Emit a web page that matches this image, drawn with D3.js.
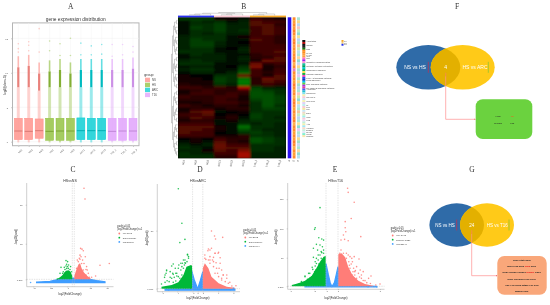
<!DOCTYPE html>
<html><head><meta charset="utf-8">
<script src="https://cdn.jsdelivr.net/npm/d3@7/dist/d3.min.js"></script>
<style>
html,body{margin:0;padding:0;background:#fff}
svg{display:block;filter:blur(0.3px)}
text{font-family:"Liberation Sans",Arial,sans-serif}
.axis path,.axis line{stroke:#888;stroke-width:.4}
.axis text{fill:#555;font-size:2.4px}
</style></head><body>
<script>
// ---------- Panel letters
const panelLetters = ["A","B","C","D","E","F","G"];
// ---------- Panel A: expression box plots
const samples = ["NS1","NS2","NS3","HS1","HS2","HS3","ARC1","ARC2","ARC3","T16_1","T16_2","T16_3"];
const sampleGroup = ["NS","NS","NS","HS","HS","HS","ARC","ARC","ARC","T16","T16","T16"];
const groups = ["NS","HS","ARC","T16"];
const groupFill = ["#ff8d86","#8fbf3a","#00ccd2","#df9dfb"];
const boxQ1 = [0.3,0.3,0.5,0.2,0.2,0.2,0.3,0.3,0.3,0.2,0.2,0.2];
const boxMed = [1.55,1.5,1.6,1.5,1.55,1.55,1.6,1.6,1.6,1.5,1.55,1.55];
const boxQ3 = [3.4,3.4,3.3,3.4,3.4,3.4,3.45,3.4,3.4,3.4,3.4,3.4];
const denseLow = [7.9,7.9,7.4,7.9,7.9,7.9,7.9,7.9,7.9,7.9,7.9,7.9];
const denseHigh = [12.4,12.6,11.5,11.8,12,11.5,12,12,12,12,12,12.2];
const sparseOut = [[13,13.5,14.2],[13.2,14,14.5],[13,16.4],[13.2,14.6],[12.5,14.2],[12.5,15],[12.6,14.3],[12.6,13.9],[12.7,14.1],[12.4,14.1],[12.6,14.1],[13,13.8]];
const exprTicks = [0,5,10,15];
// ---------- Panel B: heat map (columns by rows, -10 green .. 10 red)
const heatCols = ["HS1","HS2","HS3","ARC1","ARC2","ARC3","T16_1","T16_2","T16_3"];
const heatValues = [
[-4,-4,-4,1,1,-1,3,2,1],[-1,-3,-2,-3,-1,-2,4,3,3],[-1,-3,-3,-4,-2,-2,4,4,2],[-1,-4,-3,-4,-2,-2,3,4,3],
[-1,-3,-3,-4,-2,-3,3,4,3],[-1,-3,-2,-3,-2,-2,3,4,3],[-2,-3,-3,-3,-1,1,3,3,2],[-2,-4,-3,-3,-1,-1,4,3,2],
[-2,-4,-4,-2,-1,0,3,3,2],[-2,-4,-4,-2,-1,-1,3,3,3],[-2,-3,-3,-1,0,-2,3,3,3],[-3,-3,-3,-1,-1,-2,3,3,4],
[-1,-3,-2,-2,-1,-1,2,3,3],[-1,-2,-2,-2,-1,-2,2,2,4],[-2,-3,-2,-2,-1,-2,1,5,4],[-3,-3,-3,-1,-1,-1,5,2,3],
[-1,-2,-2,-1,0,-3,6,1,2],[-2,-3,-3,-1,-1,-4,3,1,3],[-1,-2,-2,-1,-2,-6,3,2,3],[1,0,0,-3,-3,5,3,1,4],
[1,1,0,-4,-3,-7,2,5,4],[1,1,1,-4,-3,-8,2,4,3],[2,1,1,-3,-2,-7,2,3,2],[3,3,2,3,2,8,-4,-2,-2],
[1,2,3,2,2,3,-5,-4,-3],[1,3,3,2,3,2,-5,-5,-3],[3,2,2,3,3,1,-5,-5,-4],[2,2,2,3,2,1,-4,-5,-4],
[1,1,2,3,3,2,-3,-5,-4],[3,2,1,2,2,1,-3,-5,-3],[1,2,2,1,2,2,-3,-4,-4],[1,4,5,-1,0,1,-3,-3,-3],
[3,3,4,0,1,0,-4,-3,-3],[2,4,3,1,2,-1,-4,-3,-2],[1,2,2,-1,1,-2,-3,-3,-3],[3,3,3,-1,-1,-3,-2,-3,-2],
[4,4,4,1,-1,-7,-3,-3,-2],[4,4,3,1,-1,-5,-3,-2,-2],[4,3,3,0,-1,-3,-4,-3,-2],[3,3,3,1,1,2,-3,-3,-2],
[0,1,0,3,2,2,-5,-4,-3],[-1,1,-1,4,2,1,-5,-4,-3],[-2,-1,-2,5,3,3,-3,-3,-3],[-3,-2,-1,5,4,4,-3,-3,-2],
[-2,-2,1,4,3,6,-3,-3,-2],[-3,-2,-2,3,3,8,-2,-2,-2],[-3,-3,-3,2,2,8,-2,-2,-2]];
const colTree = [[[[1,1],1],[[1,1],1]],[[1,1],1]];
const rowTree = [[[[[1,1],[1,[1,1]]],[[1,[1,1]],[[1,1],1]]],[[[1,1],[[1,1],1]],[[1,[1,1]],[1,1]]]],[[[[1,1],[1,[1,1]]],[[[1,1],1],[1,1]]],[[[1,[1,1]],[1,1]],[[1,1],[1,[1,1]]]]]];
const colGroupColor = ["#2a30f0","#f9c3d0","#f5a623"];
const trackOrange = ["#ff8c2e","#ffa033","#ff8c2e","#ff9a3a","#ff7d2a","#ff8c2e","#ffb04a","#ff8c2e","#ff7d2a","#ff9a3a","#ff8c2e","#ffa033","#ff8c2e","#ff8c2e","#ff7d2a","#ffb04a","#ff8c2e","#e87fb0","#ff8c2e","#ff9a3a","#ff8c2e","#ffa033","#ff7d2a","#ff8c2e","#ff9a3a","#ff8c2e","#ffb04a","#ff8c2e","#ff7d2a","#ff8c2e","#ffa033","#ff8c2e","#ff9a3a","#ff8c2e","#ff7d2a","#ffb04a","#ff8c2e","#ff8c2e","#ffa033","#ff8c2e","#ff9a3a","#ff7d2a","#ff8c2e","#ffb04a","#ff8c2e","#ffa033","#ff8c2e"];
const trackPastel = ["#a9e6d2","#f5d98b","#b8d8f0","#f7c6c0","#c0ecc0","#8fdcd0","#f2e39a","#bcd4f5","#a9e6d2","#f5c39a","#d0e8a8","#b8e0f0","#a9e6d2","#f7d6a0","#8fdcd0","#c8d8f5","#f5d98b","#a9e6d2","#b8d8f0","#e8c8f0","#a9e6d2","#f5d98b","#9fe0c8","#bcd4f5","#a9e6d2","#f7c6c0","#d0e8a8","#8fdcd0","#f5d98b","#b8e0f0","#a9e6d2","#f5c39a","#c0ecc0","#bcd4f5","#a9e6d2","#f2e39a","#8fdcd0","#e8c8f0","#a9e6d2","#b8d8f0","#f5d98b","#9fe0c8","#c8d8f5","#a9e6d2","#f7d6a0","#8fdcd0","#b8e0f0"];
const annotLabels = ["Annotation","","mTOR","","Ras","","MAPK","cAMP","Wnt","p53","","Oxidative phosphorylation","","Cytokine-cytokine interaction","","Chemokine signaling","","Calcium signaling","","PI3K-Akt signaling pathway","Focal adhesion","","TNF signaling pathway","","NF-kappa B signaling pathway","Apoptosis","","Ribosome","","Jak-STAT","","Cell cycle","","Il1","Fos","Jun","","Egr1","","Ccl2","","Klf2","","Atf3","","Hspa1a","Dnajb1","Nr4a1","Cxcl2","Sparcl1"];
const annotColors = ["#111","#c01010","#111","#222","#117711","#ff8c1a","#ff8c1a","#ffa040","#ffa040","#ff70c0","#a020f0","#ff90d0","#19c0a0","#00a060","#00c8c8","#00b060","#f7e050","#18b040","#ff40c0","#2050e0","#1030c0","#00c0f0","#60d040","#b030e0","#e040a0","#4060f0","#20c0d0","#80e0f0","#f5f0b0","#f9c8d8","#c8e8f8","#f5f0b0","#e0d0f8","#c0f0f0","#f9c8d8","#f5e8a0","#c8e8f8","#f0d8c8","#d8f0c0","#a0f0f0","#f9c8d8","#e8d8f8","#c0f0d8","#f5f0b0","#a0e8f8","#f9d8c8","#c8f0e0","#e0e8f8","#80f0d0","#f8e8b0"];
const miniLegend = ["G1","G2","G3"];
const miniLegendColor = ["#f5a623","#f0d080","#2030f0"];
// ---------- Panels C, D, E: volcano silhouettes [log2FC, -log10 padj] and scattered points
const cGreenEdge = [[-16.7,1.3],[-13.3,2.1],[-10.7,3],[-9,3.9],[-7.3,4.6],[-4.7,4.8],[-2.7,4.2],[-1,2.6]];
const cRedEdge = [[1,2.6],[2.7,4.6],[4.7,6.6],[6.7,7.6],[8.3,5.6],[10.7,3.9],[14,2.6],[17.3,1.6]];
const cBlueEdge = [[-36.7,.2],[-23.3,.5],[-15,1.3],[-6.7,1.5],[0,1.8],[8.3,1.5],[16.7,1.3],[23.3,.8],[31.7,.4]];
const cGreenPts = [[-7.3,8.5],[-5.7,8.1],[-6.7,7.1],[-4.7,6.8],[-9,5.9],[-12.3,5.9],[-8.3,5.1],[-5,5.5],[-2.7,6.2],[-10,4.2],[-16,1.4],[-13.3,3.6],[-4,3.6],[-8.3,3.6],[-6.7,5.5],[-3.3,5.1],[-10.7,3.6],[-1.7,4.2],[-5.7,6.2],[-7.3,6.4]];
const cRedPts = [[10.7,36.3],[11.7,32.2],[7.3,13.2],[8.7,12.9],[6.7,10.6],[10,12.3],[12,10],[6,9.4],[7.7,10],[13.3,6.2],[12.7,5.1],[26.7,6.7],[36,7.4],[22.3,2.6],[14,4.9],[9.3,8.7],[5,8.1],[10.7,7.4],[16,2.1],[18.3,2.1],[3.3,5.5],[5.7,6.8],[8.3,7.4],[6.7,9],[4,8.7],[10,4.9],[12.7,2.9],[15,3.6]];
const cBluePts = [[-42.7,.1]];
const dGreenEdge = [[-7.1,2.9],[-5.1,4.4],[-3.8,6.6],[-2.8,12.8],[-2.2,19.7],[-1.3,21.2],[-1.1,20.3]];
const dRedEdge = [[1,18.4],[1.4,22.6],[2.1,18.4],[2.7,11.4],[4.1,5.8],[5.7,3],[7.3,2.1]];
const dBlueEdge = [[-6.4,1],[-1.5,1.3],[-1.3,18.4],[-.7,9],[0,1],[.5,8],[1,15.6],[1.2,1.3],[7.3,1]];
const dGreenPts = [[-3.8,85.3],[-3.1,56.2],[-3.5,40],[-2.5,42.7],[-4.8,22],[-5.1,20.3],[-6.1,16.4],[-6.2,14.2],[-4.9,14.2],[-4.3,14.2],[-3.8,18.4],[-3.3,22.6],[-2.8,25.4],[-2,29.6],[-1.8,26.8],[-2.5,23.1],[-4.6,10.8],[-5.4,10.8],[-6.5,10.8],[-7.1,5.2],[-4.1,11.9],[-3.1,19.8],[-6,8],
[-6.4,12.8],[-6.1,17],[-5.4,15.6],[-5.1,10],[-4.8,13.3],[-4.4,18.4],[-4.1,14.2],[-3.8,11.4],[-3.7,21.2],[-3.3,17],[-3,22.6],[-2.6,21.2],[-2.5,25.4],[-2.1,24],[-1.8,28.2],[-2,30.1],[-4.3,7.7],[-5.6,7.2],[-6.4,6.6],[-3.5,10],[-3.1,12.8],[-2.8,18.4],[-2.4,22.6],[-4.8,6.6]];
const dRedPts = [[2.7,49.7],[3.3,45.5],[3.5,43],[4.9,44.4],[2.4,33.8],[2,33.2],[3.4,31],[4,31],[3.1,27.6],[4.4,27.3],[2.4,25.4],[3.6,23.1],[4.2,18.4],[5,12.8],[3.9,14.2],[4.7,10],[6,5.8],[7.5,3.8],[6.7,3.5],[5.7,12.8],[2.9,25.4],[1.6,25.9],
[1.4,26.8],[2.1,34.6],[2.7,35.2],[3.4,31],[4.1,31.8],[2.4,28.2],[3.1,24],[4.4,22.6],[3.7,18.4],[4.7,17],[3.4,14.2],[4.1,11.4],[5,12.8],[5.7,10],[3.1,19.8],[2.1,25.4],[1.4,29.6],[6.3,6.6],[4.7,8.6],[2.4,22.6],[5.4,7.2]];
const dBluePts = [[7,1.6],[-5.7,.2],[6.4,.4]];
const eGreenEdge = [[-6.7,3.4],[-5.6,6.3],[-4.5,10.8],[-3.4,18.8],[-2.6,31.9],[-2,43.2],[-1.4,51.8],[-1.05,52.9]];
const eRedEdge = [[1.05,55.7],[1.6,57.5],[2.2,50.6],[2.7,34.7],[3.4,20.5],[4.4,10.8],[5.5,5.1],[6.9,2.3]];
const eBlueEdge = [[-4.5,1],[-1.5,1.3],[-1,40],[-.6,20.5],[-.3,7.4],[0,.6],[.4,7.4],[.7,20.5],[1,34.7],[1.5,1.3],[7.4,1]];
const eGreenPts = [[-2,135.4],[-2.8,101],[-2.9,98.4],[-2.2,84],[-1.7,82],[-1.4,80],[-2.6,72.8],[-2,71.7],[-1.6,68.8],[-3.1,66],[-2.4,63],[-1.8,60.3],[-1.4,63],[-3.1,50.6],[-2.3,54.6],[-2.8,35.8],[-3.2,30],[-3.7,23.3],[-4.5,18.8],[-2.6,40],
[-5.1,9.1],[-4.5,17.6],[-3.9,23.3],[-3.7,14.8],[-3.3,33.6],[-2.9,26.2],[-2.8,43.2],[-2.6,48.9],[-2.4,31.9],[-2.3,46.1],[-2,54.6],[-1.7,58.6],[-1.4,57.5],[-3.4,17.6],[-4.1,13.1],[-2.7,29],[-2.2,39.2],[-5.6,5.1],[-1.8,48.9]];
const eRedPts = [[2.6,168.4],[2.7,161.5],[3.7,144.5],[3.2,117],[2.2,111.5],[2.2,101],[2.3,94.4],[1.9,88.7],[1.5,80.2],[2.1,81.3],[2.7,79],[4.8,85.9],[3.7,51.8],[4.5,47.8],[2.4,57.5],[3,51.8],[3.4,43.2],[4.1,34.7],[4.9,20.5],[6.5,18.8],[5.5,10.8],[8,5.1],[7.3,3.4],[4.7,29],[3.8,26.2],
[1.5,63.1],[1.9,57.5],[2.4,48.9],[2.8,43.2],[3.2,39.2],[3.6,31.9],[3,31.9],[3.8,20.5],[4.4,23.3],[4.9,14.8],[5.8,7.4],[3.4,20.5],[4.1,14.8],[2.2,46.1],[2.7,54.6],[1.3,57.5],[5.2,26.2],[6.1,14.8],[3.3,48.9],[3.5,26],[4.6,17],[5.2,11],[2.9,37],[3.9,28],[6.4,6]];
const eBluePts = [[6,.6],[7.5,.2],[7,.8]];
const volcanoTitles = ["HSvsNS","HSvsARC","HSvsT16"];
const cLegendCounts = ["UP:1095","DOWN:1354","NO:25642"];
const dLegendCounts = ["UP:2782","DOWN:3899","NO:26494"];
const eLegendCounts = ["UP: 5945","DOWN: 5326","NO:25744"];
const cXTicks = [-40,-23,-6,17,34], dXTicks = [-7,-4,-1,0,1,4,7], eXTicks = [-7,-3,-1,1,8];
const cYTicks = [1.301,15,30], dYTicks = [1.301,50], eYTicks = [1.301,50,100,150];
// ---------- Panels F, G: overlaps
const vennF = ["NS vs HS","HS vs ARC","4"];
const vennG = ["NS vs HS","HS vs T16","24"];
const boxFGenes = [["Hfhs","Il1r"],["Cyp2b6","Fos"]];
const boxGGenes = [
 [["Sox9 Stat Pmr8",0]],
 [["Bhlh Kl12 Zfhx ",0],["Rara",1],[" Spry",0]],
 [["Nrld1 Nop56 Hspa1a ",0],["Dnajb1",1],[" Spp1",0]],
 [["Naa1 Tmem9a Klf2 Cxcl9",0]],
 [["Hsc7 Cd Nop2 Mt2a1 Psr Sod",0]],
 [["Mmp3 Pop9",0]]];

// ---------- layout
const svg = d3.select("body").append("svg").attr("width",550).attr("height",305);
const defs = svg.append("defs");
defs.append("filter").attr("id","soft").attr("x","-2%").attr("y","-2%").attr("width","104%").attr("height","104%")
  .append("feGaussianBlur").attr("stdDeviation",.9);
const letterPos = {A:[70.7,9],B:[243.7,8.5],C:[73,172],D:[200,172],E:[335,172],F:[457,8.5],G:[472,172]};
svg.selectAll(".letter").data(panelLetters).join("text")
  .attr("x",d=>letterPos[d][0]).attr("y",d=>letterPos[d][1]).attr("text-anchor","middle")
  .style("font-family","'Liberation Serif',serif").style("font-size","7.5px").attr("fill","#333").text(d=>d);

// ---------- A
(function(){
  const g = svg.append("g");
  const x = d3.scalePoint().domain(samples).range([18.3,133]);
  const y = d3.scaleLinear().domain([0,15]).range([141.7,38.3]);
  const color = d3.scaleOrdinal().domain(groups).range(groupFill);
  g.append("rect").attr("x",12.5).attr("y",22.9).attr("width",126.5).attr("height",122.8).attr("fill","#fff").attr("stroke","#b5b5b5").attr("stroke-width",1);
  g.selectAll(".gh").data(exprTicks).join("line").attr("x1",13).attr("x2",139).attr("y1",d=>y(d)).attr("y2",d=>y(d)).attr("stroke","#eee").attr("stroke-width",.5);
  g.selectAll(".gv").data(samples).join("line").attr("x1",d=>x(d)).attr("x2",d=>x(d)).attr("y1",23).attr("y2",145.5).attr("stroke","#f2f2f2").attr("stroke-width",.4);
  const s = g.selectAll(".s").data(samples).join("g");
  s.each(function(name,i){
    const c = color(sampleGroup[i]), gs = d3.select(this), cx = x(name);
    gs.append("line").attr("x1",cx).attr("x2",cx).attr("y1",y(denseLow[i])).attr("y2",y(boxQ3[i])).attr("stroke",c).attr("stroke-width",3).attr("opacity",.38);
    gs.append("line").attr("x1",cx).attr("x2",cx).attr("y1",y(boxQ1[i])).attr("y2",y(-.1)).attr("stroke",c).attr("stroke-width",2).attr("opacity",.4);
    gs.append("line").attr("x1",cx).attr("x2",cx).attr("y1",y(denseLow[i])).attr("y2",y(denseHigh[i]-1.6)).attr("stroke",d3.color(c).darker(.25)).attr("stroke-width",2.2);
    gs.append("line").attr("x1",cx).attr("x2",cx).attr("y1",y(denseHigh[i]-1.6)).attr("y2",y(denseHigh[i])).attr("stroke",c).attr("stroke-width",1.6).attr("opacity",.6);
    gs.selectAll("circle").data(sparseOut[i]).join("circle").attr("cx",cx).attr("cy",d=>y(d)).attr("r",.8).attr("fill",c).attr("opacity",.45);
    gs.append("rect").attr("x",cx-4).attr("width",8).attr("y",y(boxQ3[i])).attr("height",y(boxQ1[i])-y(boxQ3[i]))
      .attr("fill",c).attr("fill-opacity",.8).attr("stroke",c).attr("stroke-width",.5);
    gs.append("line").attr("x1",cx-4).attr("x2",cx+4).attr("y1",y(boxMed[i])).attr("y2",y(boxMed[i])).attr("stroke",d3.color(c).darker(.5)).attr("stroke-width",.9);
  });
  const ya = g.append("g").attr("class","axis").attr("transform","translate(12,0)").call(d3.axisLeft(y).tickValues(exprTicks).tickSize(1));
  ya.select("path").remove();
  const xa = g.append("g").attr("class","axis").attr("transform","translate(0,146)").call(d3.axisBottom(x).tickSize(1));
  xa.select("path").remove();
  xa.selectAll("text").attr("text-anchor","end").attr("transform","rotate(-45)").attr("dx","-0.3").attr("dy","1.5");
  g.append("text").attr("x",75.7).attr("y",21).attr("text-anchor","middle").style("font-size","4.8px").attr("fill","#333").text("gene expression distribution");
  g.append("text").attr("transform","translate(6,85) rotate(-90)").attr("text-anchor","middle").style("font-size","3.4px").attr("fill","#333").text("log2(fpkm+1)");
  g.append("text").attr("x",144.3).attr("y",76).style("font-size","3.6px").attr("fill","#333").text("group");
  const leg = g.selectAll(".l").data(groups).join("g").attr("transform",(d,i)=>`translate(145,${77.7+i*5})`);
  leg.append("rect").attr("width",5).attr("height",4.4).attr("fill",d=>color(d)).attr("fill-opacity",.75);
  leg.append("text").attr("x",7).attr("y",3.3).style("font-size","2.8px").attr("fill","#444").text(d=>d);
})();

// ---------- B
(function(){
  const g = svg.append("g");
  const x = d3.scaleBand().domain(d3.range(heatCols.length)).range([178,286]);
  const y = d3.scaleBand().domain(d3.range(heatValues.length)).range([17.3,158.3]);
  const col = d3.scaleLinear().domain([-10,0,10]).range(["#00a400","#000","#d81200"]);
  g.append("clipPath").attr("id","heatClip").append("rect").attr("x",178).attr("y",17.3).attr("width",108).attr("height",141);
  g.append("rect").attr("x",178).attr("y",17.3).attr("width",108).attr("height",141).attr("fill","#000");
  const hg = g.append("g").attr("clip-path","url(#heatClip)").append("g").attr("filter","url(#soft)");
  heatValues.forEach((row,r)=>row.forEach((v,c)=>{
    hg.append("rect").attr("x",x(c)).attr("y",y(r)).attr("width",x.bandwidth()+.2).attr("height",y.bandwidth()+.2).attr("fill",col(v));
  }));
  // column groups
  d3.range(3).forEach(i=>g.append("rect").attr("x",x(i*3)).attr("width",x.bandwidth()*3).attr("y",15.6).attr("height",1.7).attr("fill",colGroupColor[i]));
  // trees
  const kids = d=>Array.isArray(d)?d:null;
  const elbow = (gg,root,map)=>{
    gg.selectAll("path").data(root.links()).join("path").attr("d",l=>{
      const a=map(l.source),b=map(l.target);
      return map.horizontal?`M${a[0]},${a[1]}V${b[1]}H${b[0]}`:`M${a[0]},${a[1]}H${b[0]}V${b[1]}`;
    }).attr("fill","none");
  };
  const cr = d3.cluster().size([x.bandwidth()*8,3]).separation(()=>1)(d3.hierarchy(colTree,kids));
  const gt = g.append("g").attr("stroke","#888").attr("stroke-width",.35);
  const mapC = d=>[x(0)+x.bandwidth()/2+d.x, 12.5+d.y];
  elbow(gt,cr,mapC);
  const rr = d3.cluster().size([y.bandwidth()*46,6]).separation(()=>1)(d3.hierarchy(rowTree,kids));
  const gr = g.append("g").attr("stroke","#555").attr("stroke-width",.3);
  const mapR = d=>[171.5+d.y, y(0)+y.bandwidth()/2+d.x];
  mapR.horizontal = true;
  elbow(gr,rr,mapR);
  // side tracks
  g.append("rect").attr("x",287.7).attr("y",17.3).attr("width",3.6).attr("height",141).attr("fill","#2a10f0");
  heatValues.forEach((_,r)=>{
    g.append("rect").attr("x",292.7).attr("y",y(r)).attr("width",2.8).attr("height",y.bandwidth()+.2).attr("fill",trackOrange[r]);
    g.append("rect").attr("x",297).attr("y",y(r)).attr("width",3).attr("height",y.bandwidth()+.2).attr("fill",trackPastel[r]);
  });
  // column labels
  g.selectAll(".cl").data(heatCols).join("text").attr("text-anchor","end")
    .attr("transform",(d,i)=>`translate(${x(i)+x.bandwidth()/2+.8},160) rotate(-80)`).style("font-size","2.6px").attr("fill","#444").text(d=>d);
  ["A","G","P"].forEach((t,i)=>g.append("text").attr("text-anchor","end").attr("transform",`translate(${[290,294.5,299][i]},160) rotate(-80)`).style("font-size","2.6px").attr("fill","#444").text(t));
  // annotation legend
  const ay = d3.scaleBand().domain(d3.range(annotColors.length)).range([40,137]);
  g.selectAll(".as").data(annotColors).join("rect").attr("x",302.3).attr("y",(d,i)=>ay(i)).attr("width",3).attr("height",ay.bandwidth()+.1).attr("fill",d=>d);
  g.selectAll(".at").data(annotLabels).join("text").attr("x",306.3).attr("y",(d,i)=>ay(i)+ay.bandwidth()).style("font-size","2.1px").attr("fill","#444").text(d=>d);
  const ml = g.selectAll(".ml").data(miniLegend).join("g").attr("transform",(d,i)=>`translate(341.5,${40+i*1.9})`);
  ml.append("rect").attr("width",2).attr("height",1.9).attr("fill",(d,i)=>miniLegendColor[i]);
  ml.append("text").attr("x",2.6).attr("y",1.6).style("font-size","1.9px").attr("fill","#555").text(d=>d);
})();

// ---------- C, D, E
function volcano(o){
  const g = svg.append("g");
  const x = d3.scaleLinear().domain(o.xd).range(o.xr);
  const y = d3.scaleLinear().domain(o.yd).range(o.yr);
  const area = d3.area().x(d=>x(d[0])).y1(d=>y(d[1])).curve(d3.curveLinear);
  const red="#ff7d78", green="#00b838", blue="#3f9dff";
  g.append("path").attr("d",area.y0(y(0))(o.blueEdge)).attr("fill",blue).attr("stroke",blue).attr("stroke-width",1.2);
  g.append("path").attr("d",area.y0(y(1.301))(o.greenEdge)).attr("fill",green);
  g.append("path").attr("d",area.y0(y(1.301))(o.redEdge)).attr("fill",red);
  const pts=(arr,c)=>g.append("g").selectAll("circle").data(arr).join("circle").attr("cx",d=>x(d[0])).attr("cy",d=>y(d[1])).attr("r",.8).attr("fill",c).attr("opacity",.85);
  pts(o.greenPts,green); pts(o.redPts,red); pts(o.bluePts,blue);
  [-1,1].forEach(v=>g.append("line").attr("x1",x(v)).attr("x2",x(v)).attr("y1",o.top).attr("y2",o.bottom).attr("stroke","#bbb").attr("stroke-width",.4).attr("stroke-dasharray","1.4,1"));
  g.append("line").attr("x1",o.left).attr("x2",o.right).attr("y1",y(1.301)).attr("y2",y(1.301)).attr("stroke","#aaa").attr("stroke-width",.35).attr("stroke-dasharray","1.4,1");
  const xa = g.append("g").attr("class","axis").attr("transform",`translate(0,${o.bottom})`).call(d3.axisBottom(x).tickValues(o.xt).tickFormat(d3.format("d")).tickSize(.8).tickPadding(.3));
  xa.select("path").attr("d",`M${o.left},0H${o.right}`);
  const ya = g.append("g").attr("class","axis").attr("transform",`translate(${o.left},0)`).call(d3.axisLeft(y).tickValues(o.yt).tickFormat(d=>d===1.301?"1.301":d).tickSize(1));
  ya.select("path").attr("d",`M0,${o.top}V${o.bottom}`);
  g.append("text").attr("x",o.titleX).attr("y",182).attr("text-anchor","middle").style("font-size","3.6px").attr("fill","#333").text(o.title);
  g.append("text").attr("x",o.xlabX).attr("y",o.xlabY).attr("text-anchor","middle").style("font-size","2.9px").attr("fill","#333").text("log2(FoldChange)");
  g.append("text").attr("transform",`translate(${o.ylabX},${o.ylabY}) rotate(-90)`).attr("text-anchor","middle").style("font-size","2.9px").attr("fill","#333").text("-log10(padj)");
  const lg = g.append("g").attr("transform",`translate(${o.legX},${o.legY})`);
  lg.append("text").attr("y",0).style("font-size","2.6px").attr("fill","#333").text("padj<=0.05");
  lg.append("text").attr("y",2.8).style("font-size","2.6px").attr("fill","#333").text("|log2FoldChange|>=1");
  const rows = lg.selectAll(".e").data(o.counts).join("g").attr("transform",(d,i)=>`translate(0,${7.3+i*4.2})`);
  rows.append("circle").attr("cx",2).attr("cy",-.8).attr("r",.9).attr("fill",(d,i)=>[red,green,blue][i]);
  rows.append("text").attr("x",5.5).style("font-size","2.4px").attr("fill","#444").text(d=>d);
}
volcano({xd:[-10,10],xr:[63.3,83.3],yd:[0,30],yr:[282.7,204.7],xt:cXTicks,yt:cYTicks,top:183,bottom:286.7,left:26.7,right:113.5,
  greenEdge:cGreenEdge,redEdge:cRedEdge,blueEdge:cBlueEdge,greenPts:cGreenPts,redPts:cRedPts,bluePts:cBluePts,title:volcanoTitles[0],titleX:70,
  xlabX:70,xlabY:294.6,ylabX:16.7,ylabY:236.7,legX:117.3,legY:227,counts:cLegendCounts});
volcano({xd:[-1,1],xr:[192.6,202.8],yd:[0,50],yr:[290.2,230.7],xt:dXTicks,yt:dYTicks,top:184,bottom:291.7,left:157.3,right:240,
  greenEdge:dGreenEdge,redEdge:dRedEdge,blueEdge:dBlueEdge,greenPts:dGreenPts,redPts:dRedPts,bluePts:dBluePts,title:volcanoTitles[1],titleX:198,
  xlabX:198,xlabY:299,ylabX:148,ylabY:238.3,legX:243.3,legY:231,counts:dLegendCounts});
volcano({xd:[-1,1],xr:[326,338],yd:[0,50],yr:[287,257.7],xt:eXTicks,yt:eYTicks,top:183,bottom:289.3,left:287.7,right:384.5,
  greenEdge:eGreenEdge,redEdge:eRedEdge,blueEdge:eBlueEdge,greenPts:eGreenPts,redPts:eRedPts,bluePts:eBluePts,title:volcanoTitles[2],titleX:335.7,
  xlabX:336,xlabY:299,ylabX:276.7,ylabY:237.3,legX:390.7,legY:229,counts:eLegendCounts});

// ---------- F, G
function venn(o){
  const g = svg.append("g");
  const id="clip"+o.id;
  g.append("ellipse").attr("cx",o.c1).attr("cy",o.cy).attr("rx",o.rx1).attr("ry",o.ry).attr("fill","#2f6ba8");
  g.append("ellipse").attr("cx",o.c2).attr("cy",o.cy).attr("rx",o.rx2).attr("ry",o.ry).attr("fill","#ffca18");
  g.append("clipPath").attr("id",id).append("ellipse").attr("cx",o.c1).attr("cy",o.cy).attr("rx",o.rx1).attr("ry",o.ry);
  g.append("ellipse").attr("cx",o.c2).attr("cy",o.cy).attr("rx",o.rx2).attr("ry",o.ry).attr("fill","#e3b000").attr("clip-path",`url(#${id})`);
  const t=[[o.t1,o.labels[0]],[o.t2,o.labels[1]],[o.mid,o.labels[2]]];
  g.selectAll(".t").data(t).join("text").attr("x",d=>d[0]).attr("y",o.cy+1.8).attr("text-anchor","middle").style("font-size",o.fs+"px").attr("fill","#fff").text(d=>d[1]);
  g.append("line").attr("x1",o.redX).attr("x2",o.redX).attr("y1",o.cy-5.5).attr("y2",o.cy+5.5).attr("stroke","#e4243a").attr("stroke-width",.6);
  g.append("line").attr("x1",o.greenX).attr("x2",o.greenX).attr("y1",o.cy-5.5).attr("y2",o.cy+5.5).attr("stroke","#6abf3a").attr("stroke-width",.6);
  g.append("path").attr("d",`M${o.mid},${o.cy+5.5}V${o.connY}H${o.boxX-1}`).attr("fill","none").attr("stroke","#ff8f8f").attr("stroke-width",.7);
  g.append("path").attr("d",`M${o.boxX-1.2},${o.connY-.8}L${o.boxX},${o.connY}L${o.boxX-1.2},${o.connY+.8}Z`).attr("fill","#e8303a");
  g.append("line").attr("x1",o.mid).attr("x2",o.mid).attr("y1",o.cy+5.5).attr("y2",o.cy+9).attr("stroke","#f09020").attr("stroke-width",.8);
  g.append("rect").attr("x",o.boxX).attr("y",o.boxY).attr("width",o.boxW).attr("height",o.boxH).attr("rx",7).attr("fill",o.boxFill);
  return g;
}
const gF = venn({id:"F",c1:428.3,c2:462.7,cy:67.3,rx1:32,rx2:32,ry:22.3,t1:415,t2:475,mid:445.7,fs:5,labels:vennF,redX:428.3,greenX:488.3,connY:119.3,boxX:475.7,boxY:99.3,boxW:56.6,boxH:39.7,boxFill:"#6bd23f"});
boxFGenes.forEach((row,i)=>{
  gF.append("text").attr("x",498).attr("y",117+i*6.6).attr("text-anchor","middle").style("font-size","2.4px").attr("fill","#222").text(row[0]);
  gF.append("text").attr("x",512.3).attr("y",117+i*6.6).attr("text-anchor","middle").style("font-size","2.4px").attr("fill",i===0?"#f0601a":"#222").text(row[1]);
});
const gG = venn({id:"G",c1:456.7,c2:487,cy:225,rx1:27.3,rx2:27,ry:21.7,t1:445,t2:497.3,mid:471.7,fs:4.5,labels:vennG,redX:456.7,greenX:509,connY:275.7,boxX:497.3,boxY:256,boxW:49.4,boxH:38.7,boxFill:"#f9a77a"});
boxGGenes.forEach((row,i)=>{
  const t = gG.append("text").attr("x",521.7).attr("y",260.6+i*6.33).attr("text-anchor","middle").style("font-size","2.4px").attr("font-weight","bold").attr("fill","#222");
  row.forEach(p=>t.append("tspan").attr("fill",p[1]?"#e81010":"#222").text(p[0]));
});
</script>
</body></html>
